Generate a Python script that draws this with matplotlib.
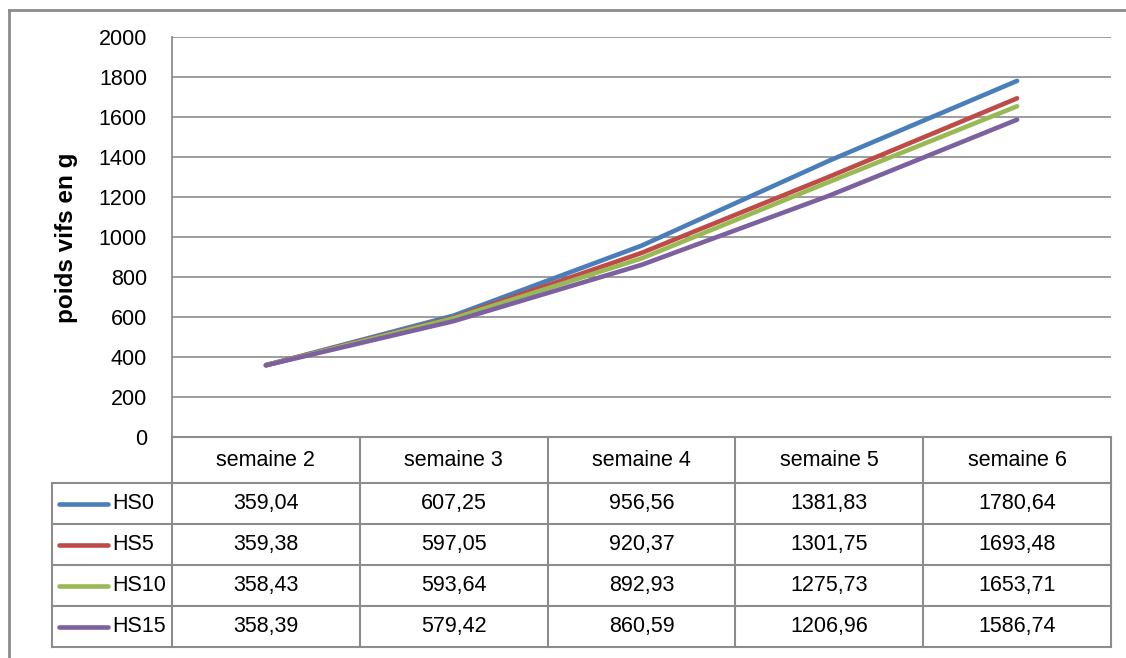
import matplotlib
matplotlib.use("Agg")
from matplotlib import pyplot as plt
from matplotlib.lines import Line2D

plt.rcParams['font.family'] = ['Liberation Sans', 'DejaVu Sans']

weeks = ["semaine 2", "semaine 3", "semaine 4", "semaine 5", "semaine 6"]
series_names = ["HS0", "HS5", "HS10", "HS15"]
hs0 = [359.04, 607.25, 956.56, 1381.83, 1780.64]
hs5 = [359.38, 597.05, 920.37, 1301.75, 1693.48]
hs10 = [358.43, 593.64, 892.93, 1275.73, 1653.71]
hs15 = [358.39, 579.42, 860.59, 1206.96, 1586.74]
colors = ["#4a7ebb", "#be4b48", "#98b954", "#7d60a0"]

W, H = 1126, 658
GREY = "#8c8c8c"
FS = 15.5


def fx(px):
    return px / W


def fy(py):
    return 1 - py / H


fig = plt.figure(figsize=(W / 100, H / 100), dpi=100)

# line chart
ax = fig.add_axes([fx(172), fy(437), (1111 - 172) / W, (437 - 37) / H])
all_series = [hs0, hs5, hs10, hs15]
x = list(range(len(weeks)))
for vals, c in zip(all_series, colors):
    ax.plot(x, vals, color=c, lw=3.3, solid_capstyle='round', zorder=3)
ax.set_xlim(-0.5, len(weeks) - 0.5)
ax.set_ylim(0, 2000)
ax.set_yticks(range(0, 2001, 200))
ax.set_xticks([])
ax.yaxis.grid(True, color=GREY, lw=1.2)
ax.set_axisbelow(True)
for s in ["top", "right"]:
    ax.spines[s].set_visible(False)
for s in ["left", "bottom"]:
    ax.spines[s].set_color(GREY)
    ax.spines[s].set_linewidth(1.3)
ax.tick_params(axis='y', length=0, pad=18, labelsize=FS)

fig.text(fx(66), fy(238), "poids vifs en g", rotation=90, ha='center', va='center',
         fontsize=17.5, fontweight='bold')

# data table below the plot
tax = fig.add_axes([fx(172), fy(647), (1111 - 172) / W, (647 - 437) / H])
tax.set_xlim(-0.5, len(weeks) - 0.5)
tax.set_ylim(210, 0)
tax.axis('off')
col_w = 188.0


def px2x(px):
    return (px - 172) / col_w - 0.5


row_edges = [0, 46, 87, 128, 169, 210]
left = px2x(52)
kw = dict(color=GREY, lw=1.5, clip_on=False, solid_capstyle='projecting')
# horizontal lines
tax.plot([-0.5, len(weeks) - 0.5], [0, 0], **kw)
for yy in row_edges[1:]:
    tax.plot([left, len(weeks) - 0.5], [yy, yy], **kw)
# vertical lines
for i in range(len(weeks) + 1):
    tax.plot([i - 0.5, i - 0.5], [0, 210], **kw)
tax.plot([left, left], [46, 210], **kw)

for i, w in enumerate(weeks):
    tax.text(i, 24, w, ha='center', va='center', fontsize=FS)

for r, (name, vals, c) in enumerate(zip(series_names, all_series, colors)):
    yc = (row_edges[r + 1] + row_edges[r + 2]) / 2
    tax.plot([px2x(59), px2x(108)], [yc, yc], color=c, lw=3.3,
             solid_capstyle='round', clip_on=False)
    tax.text(px2x(112), yc, name, ha='left', va='center', fontsize=FS)
    for i, v in enumerate(vals):
        tax.text(i, yc, f"{v:.2f}".replace('.', ','), ha='center', va='center',
                 fontsize=FS)

# chart-area frame (partially cropped)
fig.add_artist(Line2D([fx(9), 1], [fy(10), fy(10)], color=GREY, lw=2))
fig.add_artist(Line2D([fx(9), fx(9)], [fy(10), 0], color=GREY, lw=2))

fig.savefig("out.png", dpi=100)
